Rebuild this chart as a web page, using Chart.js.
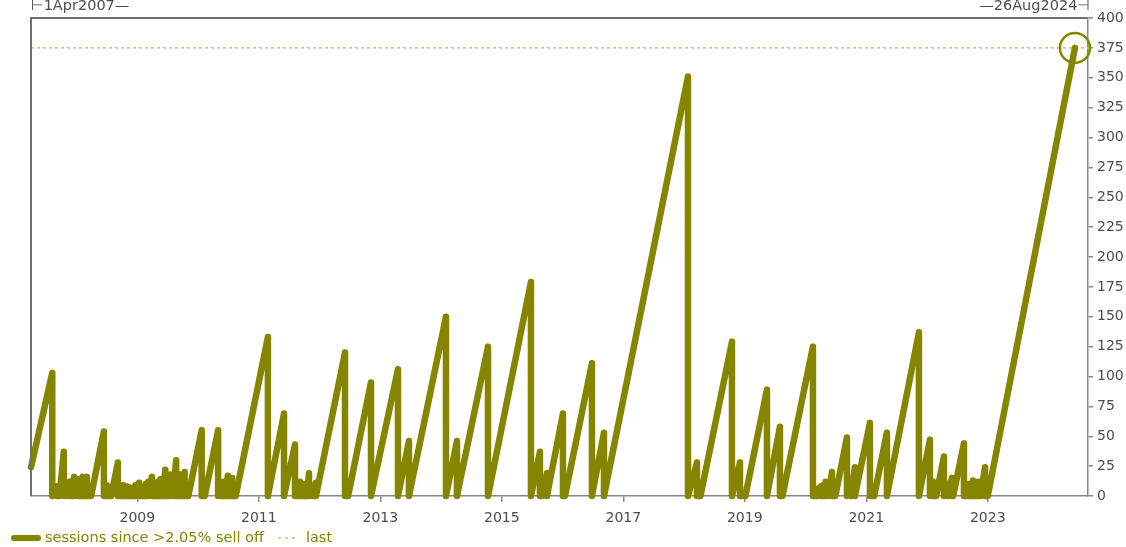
<!DOCTYPE html>
<html>
<head>
<meta charset="utf-8">
<script src="https://cdn.jsdelivr.net/npm/chart.js@4.4.1/dist/chart.umd.min.js"></script>
<style>
  html, body { margin: 0; padding: 0; background: #fff; }
  #wrap { width: 1126px; height: 547px; position: relative; }
</style>
</head>
<body>
<div id="wrap"><canvas id="chart"></canvas></div>
<script>
/* ——— data: vertices of the saw-tooth (decimal year, sessions) ——— */
const sawYears = [
  2007.25, 2007.60, 2007.60, 2007.68, 2007.68, 2007.72, 2007.72, 2007.79, 2007.79, 2007.84,
  2007.84, 2007.89, 2007.89, 2007.93, 2007.93, 2007.96, 2007.96, 2008.02, 2008.02, 2008.06,
  2008.06, 2008.10, 2008.10, 2008.14, 2008.14, 2008.17, 2008.17, 2008.24,
  2008.45, 2008.45, 2008.49, 2008.49, 2008.52, 2008.52, 2008.57, 2008.68, 2008.68, 2008.71,
  2008.71, 2008.74, 2008.74, 2008.77, 2008.77, 2008.80, 2008.80, 2008.83, 2008.83, 2008.86,
  2008.86, 2008.89, 2008.89, 2008.93, 2008.93, 2008.97, 2008.97, 2009.03, 2009.03, 2009.06,
  2009.06, 2009.10, 2009.10, 2009.14, 2009.14, 2009.18, 2009.18, 2009.24, 2009.24, 2009.27,
  2009.27, 2009.30, 2009.30, 2009.34, 2009.34, 2009.38, 2009.38, 2009.42, 2009.42, 2009.46,
  2009.46, 2009.50, 2009.50, 2009.53, 2009.53, 2009.58, 2009.58, 2009.64, 2009.64, 2009.67,
  2009.67, 2009.71, 2009.71, 2009.75, 2009.75, 2009.78, 2009.78, 2009.84, 2010.06, 2010.06,
  2010.11, 2010.33, 2010.33, 2010.38, 2010.38, 2010.42, 2010.42, 2010.46, 2010.46, 2010.49,
  2010.49, 2010.53, 2010.53, 2010.56, 2010.56, 2010.62,
  2011.15, 2011.15, 2011.415, 2011.415, 2011.596, 2011.596, 2011.64, 2011.64, 2011.678, 2011.678,
  2011.71, 2011.71, 2011.75, 2011.75, 2011.79, 2011.79, 2011.826, 2011.826, 2011.88, 2011.88,
  2011.91, 2011.91, 2011.941, 2011.941, 2012.419, 2012.419,
  2012.47, 2012.847, 2012.847, 2013.291, 2013.291, 2013.472, 2013.472, 2014.081, 2014.081, 2014.262,
  2014.262, 2014.773, 2014.773, 2015.480, 2015.480, 2015.628, 2015.628, 2015.67, 2015.744, 2015.744,
  2016.007, 2016.007, 2016.04, 2016.484, 2016.484, 2016.682, 2016.682, 2018.065, 2018.065, 2018.213,
  2018.213, 2018.27, 2018.789, 2018.789, 2018.921, 2018.921, 2019.01, 2019.365, 2019.365, 2019.579,
  2019.579, 2019.62, 2020.122, 2020.122, 2020.16, 2020.16, 2020.20, 2020.20, 2020.254, 2020.254,
  2020.29, 2020.29, 2020.33, 2020.33, 2020.38, 2020.38,
  2020.435, 2020.435, 2020.49, 2020.682, 2020.682, 2020.75, 2020.75, 2020.813, 2020.813, 2021.060,
  2021.060, 2021.13, 2021.340, 2021.340, 2021.867, 2021.867, 2022.048, 2022.048, 2022.10, 2022.10,
  2022.15, 2022.279, 2022.279, 2022.34, 2022.34, 2022.411, 2022.411, 2022.43, 2022.608, 2022.608,
  2022.65, 2022.65, 2022.68, 2022.68, 2022.72, 2022.72, 2022.757, 2022.757, 2022.80, 2022.80,
  2022.84, 2022.84, 2022.88, 2022.88, 2022.955, 2022.955, 2023.00, 2024.435
];
const sawValues = [
  24, 103, 0, 8, 0, 6, 0, 37, 0, 10,
  0, 12, 0, 9, 0, 16, 0, 14, 0, 10,
  0, 16, 0, 11, 0, 16, 0, 0,
  54, 0, 9, 0, 8, 0, 0, 28, 0, 9,
  0, 7, 0, 9, 0, 6, 0, 8, 0, 5,
  0, 7, 0, 6, 0, 9, 0, 11, 0, 7,
  0, 8, 0, 10, 0, 12, 0, 16, 0, 9,
  0, 10, 0, 12, 0, 14, 0, 11, 0, 22,
  0, 12, 0, 18, 0, 14, 0, 30, 0, 12,
  0, 18, 0, 14, 0, 20, 0, 0, 55, 0,
  0, 55, 0, 10, 0, 12, 0, 9, 0, 17,
  0, 11, 0, 15, 0, 0,
  133, 0, 69, 0, 43, 0, 8, 0, 12, 0,
  9, 0, 10, 0, 8, 0, 19, 0, 6, 0,
  9, 0, 11, 0, 120, 0,
  0, 95, 0, 106, 0, 46, 0, 150, 0, 46,
  0, 125, 0, 179, 0, 37, 0, 0, 19, 0,
  69, 0, 0, 111, 0, 53, 0, 351, 0, 28,
  0, 0, 129, 0, 28, 0, 0, 89, 0, 58,
  0, 0, 125, 0, 5, 0, 6, 0, 8, 0,
  9, 0, 12, 0, 10, 0,
  20, 0, 0, 49, 0, 14, 0, 24, 0, 61,
  0, 0, 53, 0, 137, 0, 47, 0, 12, 0,
  0, 33, 0, 10, 0, 15, 0, 0, 44, 0,
  9, 0, 10, 0, 8, 0, 13, 0, 10, 0,
  12, 0, 9, 0, 24, 0, 0, 375
];
const lastValue = 375;
const xTickYears = [2009, 2011, 2013, 2015, 2017, 2019, 2021, 2023];
const startLabel = '\u22A21Apr2007\u2014';
const endLabel = '\u201426Aug2024\u22A3';
const seriesLabel = 'sessions since >2.05% sell off';
const lastLabel = 'last';

/* ——— styles ——— */
const OLIVE = '#858500';
const DASH = '#c8c870';
const AXIS = '#888';
const TXT = '#4c4c4c';
const FONT = 'DejaVu Sans, Verdana, sans-serif';
const X_MIN = 2007.25, X_MAX = 2024.65;

const series = sawYears.map((x, i) => ({x, y: sawValues[i]}));
const lastIdx = series.length - 1;

/* frame on top/left, the two date labels above the plot, legend under it */
const framePlugin = {
  id: 'frame',
  afterDraw(chart) {
    const {ctx, chartArea: a} = chart;
    ctx.save();
    ctx.strokeStyle = '#707070';
    ctx.lineWidth = 2;
    ctx.beginPath();
    ctx.moveTo(a.left, a.bottom);
    ctx.lineTo(a.left, a.top);
    ctx.lineTo(a.right, a.top);
    ctx.stroke();

    ctx.fillStyle = TXT;
    ctx.font = '14.5px ' + FONT;
    ctx.textBaseline = 'middle';
    ctx.textAlign = 'left';
    ctx.fillText(startLabel, a.left, 6);
    ctx.textAlign = 'right';
    ctx.fillText(endLabel, a.right + 2, 6);

    // legend
    const ly = 538;
    ctx.lineWidth = 6;
    ctx.lineCap = 'round';
    ctx.strokeStyle = OLIVE;
    ctx.beginPath();
    ctx.moveTo(14, ly); ctx.lineTo(38, ly);
    ctx.stroke();
    ctx.lineCap = 'butt';
    ctx.fillStyle = OLIVE;
    ctx.textAlign = 'left';
    ctx.fillText(seriesLabel, 45, ly);
    const w = ctx.measureText(seriesLabel).width;
    const dx = 45 + w + 14;
    ctx.lineWidth = 1.5;
    ctx.strokeStyle = DASH;
    ctx.setLineDash([3, 4]);
    ctx.beginPath();
    ctx.moveTo(dx, ly); ctx.lineTo(dx + 18, ly);
    ctx.stroke();
    ctx.setLineDash([]);
    ctx.fillText(lastLabel, dx + 28, ly);
    ctx.restore();
  }
};

const chart = new Chart(document.getElementById('chart'), {
  type: 'line',
  data: {
    datasets: [
      {
        label: seriesLabel,
        data: series,
        borderColor: OLIVE,
        borderWidth: 6.5,
        borderJoinStyle: 'round',
        borderCapStyle: 'round',
        pointRadius: c => c.dataIndex === lastIdx ? 15 : 0,
        pointBorderWidth: 2.5,
        pointBorderColor: OLIVE,
        pointBackgroundColor: 'rgba(0,0,0,0)',
        clip: false,
        order: 1
      },
      {
        label: lastLabel,
        data: [{x: X_MIN, y: lastValue}, {x: X_MAX, y: lastValue}],
        borderColor: DASH,
        borderWidth: 1.5,
        borderDash: [3, 3],
        pointRadius: 0,
        order: 2
      }
    ]
  },
  options: {
    responsive: true,
    maintainAspectRatio: false,
    animation: false,
    events: [],
    layout: {padding: {left: 31, top: 18, right: 0, bottom: 20}},
    plugins: {
      tooltip: {enabled: false},
      legend: {display: false}
    },
    scales: {
      x: {
        type: 'linear',
        min: X_MIN,
        max: X_MAX,
        afterFit: s => { s.height = 31; },
        afterBuildTicks: s => { s.ticks = xTickYears.map(v => ({value: v})); },
        ticks: {
          color: TXT,
          font: {family: FONT, size: 14},
          padding: 8,
          maxRotation: 0,
          autoSkip: false,
          callback: v => String(v)
        },
        grid: {drawOnChartArea: false, drawTicks: true, tickLength: 6, color: AXIS, lineWidth: 1.5},
        border: {color: AXIS, width: 1.5}
      },
      y: {
        position: 'right',
        min: 0,
        max: 400,
        afterFit: s => { s.width = 38; },
        ticks: {
          stepSize: 25,
          color: TXT,
          font: {family: FONT, size: 14},
          padding: 4
        },
        grid: {drawOnChartArea: false, drawTicks: true, tickLength: 5, color: AXIS, lineWidth: 1.5},
        border: {color: AXIS, width: 1.5}
      }
    }
  },
  plugins: [framePlugin]
});
</script>
</body>
</html>
